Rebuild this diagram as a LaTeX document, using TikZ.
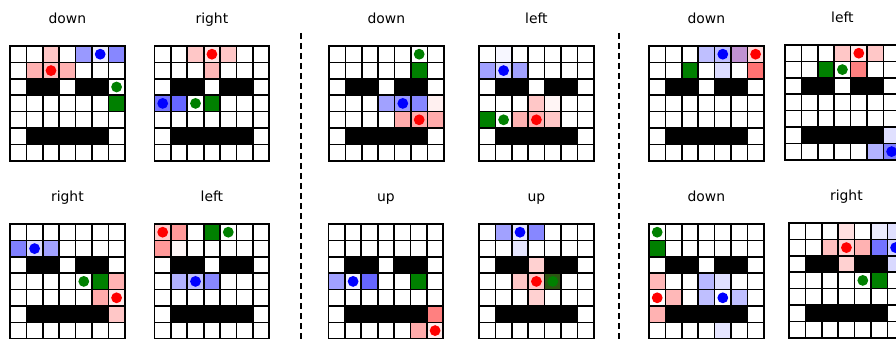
\documentclass[tikz,border=0pt]{standalone}
\usepackage{fontspec}
\setmainfont{DejaVu Sans}
\usepackage{tikz}
\usetikzlibrary{positioning}

\definecolor{GoalGreen}{RGB}{0,128,0}
\definecolor{GoalOlive}{RGB}{45,85,20}
\definecolor{OverlapPurple}{RGB}{192,146,210}

% one 7x7 panel: #1 origin, #2 title, #3 shaded cells c/r/colour, #4 agents c/r/colour, #5 name
\newcommand{\gridpanel}[5]{%
  \begin{scope}[shift={#1}, x=16.4pt, y=-16.4pt]
    \foreach \c/\r/\col in {#3} {\fill[\col] (\c,\r) rectangle ++(1,1);}
    \fill (1,2) rectangle (3,3) (4,2) rectangle (6,3) (1,5) rectangle (6,6);
    \foreach \i in {0,...,7} {\draw[cellline] (\i,0) -- (\i,7) (0,\i) -- (7,\i);}
    \foreach \c/\r/\col in {#4} {\fill[\col] (\c+0.5,\r+0.5) circle (0.33);}
    \node[paneltitle] (#5) at (3.5,-1.35) {#2};
  \end{scope}}

\begin{document}
\begin{tikzpicture}[
    x=1pt, y=-1pt,
    cellline/.style={line width=1.7pt, black, line cap=rect},
    paneltitle/.style={anchor=base, inner sep=0pt, font=\fontsize{13.9}{16}\selectfont},
    sepline/.style={line width=2.2pt, black, dash pattern=on 6pt off 4pt}
  ]
    \useasboundingbox (0,0) rectangle (896,339);

    % top row
    \gridpanel{(10,46)}{down}{2/0/red!22, 4/0/blue!40, 5/0/blue!8, 6/0/blue!47, 1/1/red!30, 2/1/red!25, 3/1/red!30, 6/3/GoalGreen}{5/0/blue, 2/1/red, 6/2/GoalGreen}{t1}
    \gridpanel{(154.5,46)}{right}{2/0/red!22, 3/0/red!10, 4/0/red!22, 3/1/red!28, 0/3/blue!55, 1/3/blue!60, 3/3/GoalGreen}{3/0/red, 0/3/blue, 2/3/GoalGreen}{t2}
    \gridpanel{(329,46)}{down}{5/1/GoalGreen, 3/3/blue!37, 4/3/blue!40, 5/3/blue!47, 6/3/red!6, 4/4/red!33, 5/4/red!33, 6/4/red!33}{5/0/GoalGreen, 4/3/blue, 5/4/red}{t3}
    \gridpanel{(479,46)}{left}{1/0/blue!3, 0/1/blue!37, 1/1/blue!15, 2/1/blue!37, 3/3/red!22, 4/3/red!4, 0/4/GoalGreen, 2/4/red!30, 3/4/red!30, 4/4/red!22}{1/1/blue, 1/4/GoalGreen, 3/4/red}{t4}
    \gridpanel{(649,46)}{down}{3/0/blue!25, 4/0/blue!25, 5/0/OverlapPurple, 6/0/red!15, 2/1/GoalGreen, 4/1/blue!14, 6/1/red!55}{4/0/blue, 6/0/red}{t5}
    \gridpanel{(785,45)}{left}{3/0/red!22, 4/0/red!8, 5/0/red!22, 2/1/GoalGreen, 4/1/red!50, 6/5/blue!12, 5/6/blue!30, 6/6/blue!50}{4/0/red, 3/1/GoalGreen, 6/6/blue}{t6}

    % bottom row
    \gridpanel{(10,224)}{right}{0/1/blue!50, 1/1/blue!15, 2/1/blue!37, 5/3/GoalGreen, 6/3/red!30, 5/4/red!33, 6/4/red!8, 6/5/red!22}{1/1/blue, 4/3/GoalGreen, 6/4/red}{t7}
    \gridpanel{(154.5,224)}{left}{0/0/red!20, 1/0/red!40, 3/0/GoalGreen, 0/1/red!40, 1/1/red!3, 1/3/blue!30, 2/3/blue!25, 3/3/blue!47}{0/0/red, 2/3/blue, 4/0/GoalGreen}{t8}
    \gridpanel{(328.5,224)}{up}{0/3/blue!37, 1/3/blue!5, 2/3/blue!60, 5/3/GoalGreen, 6/5/red!50, 5/6/red!33, 6/6/red!8}{1/3/blue, 6/6/red}{t9}
    \gridpanel{(479,224)}{up}{1/0/blue!37, 2/0/blue!10, 3/0/blue!47, 2/1/blue!10, 3/2/red!18, 2/3/red!22, 3/3/red!22, 4/3/GoalOlive, 3/4/red!18}{2/0/blue, 3/3/red, 4/3/GoalGreen}{t10}
    \gridpanel{(649,224)}{down}{0/1/GoalGreen, 0/3/red!28, 3/3/blue!28, 4/3/blue!12, 1/4/red!28, 3/4/blue!25, 5/4/blue!25, 0/5/red!30, 4/6/blue!10}{0/0/GoalGreen, 0/4/red, 4/4/blue}{t11}
    \gridpanel{(789,223)}{right}{3/0/red!12, 5/0/blue!7, 6/0/blue!12, 2/1/red!25, 3/1/red!18, 4/1/red!30, 5/1/blue!55, 6/1/blue!18, 3/2/red!18, 6/2/blue!15, 5/3/GoalGreen}{3/1/red, 6/1/blue, 4/3/GoalGreen}{t12}

    % separators
    \coordinate (sepAtop) at (301,33);
    \coordinate (sepAbot) at (301,339);
    \coordinate (sepBtop) at (619,33);
    \coordinate (sepBbot) at (619,339);
    \draw[sepline] (sepAtop) -- (sepAbot);
    \draw[sepline] (sepBtop) -- (sepBbot);
\end{tikzpicture}
\end{document}
